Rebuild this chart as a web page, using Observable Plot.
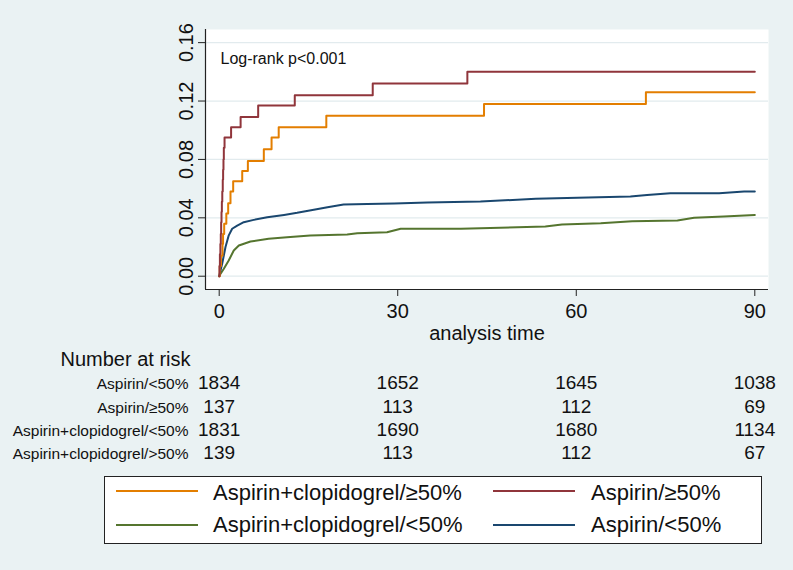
<!DOCTYPE html>
<html><head><meta charset="utf-8">
<script src="https://cdn.jsdelivr.net/npm/d3@7"></script>
<script src="https://cdn.jsdelivr.net/npm/@observablehq/plot@0.6"></script>
<style>
html,body{margin:0;padding:0;background:#eaf2f3;}
body{width:793px;height:570px;overflow:hidden;position:relative;font-family:"Liberation Sans",Arial,sans-serif;}
#legend{position:absolute;left:104px;top:476px;width:656px;height:66px;border:1px solid #222;background:#fff;}
.item{position:absolute;font-size:22px;line-height:22px;color:#111;white-space:nowrap;}
.sw{position:absolute;height:2px;width:82px;}
</style></head><body><div id="chart"></div><div id="legend"></div>
<script>
// ---- data ----
const xTicks = [0, 30, 60, 90];
const yTicks = [0, 0.04, 0.08, 0.12, 0.16];

// Aspirin/≥50% (maroon)
const aspGe50_t = [0, 0.05, 0.12, 0.2, 0.27, 0.33, 0.39, 0.45, 0.52, 0.6, 0.66, 0.72, 0.78, 0.9, 2.0, 3.6, 6.55, 12.7, 25.8, 41.7, 90];
const aspGe50_v = [0, 0.007, 0.015, 0.022, 0.029, 0.037, 0.044, 0.051, 0.058, 0.066, 0.073, 0.080, 0.088, 0.095, 0.102, 0.109, 0.117, 0.124, 0.132, 0.140, 0.140];

// Aspirin+clopidogrel/≥50% (orange)
const clopGe50_t = [0, 0.1, 0.3, 0.56, 0.65, 0.84, 1.2, 1.51, 1.9, 2.35, 3.87, 4.82, 7.5, 8.8, 10.0, 18.0, 44.5, 71.7, 90];
const clopGe50_v = [0, 0.007, 0.014, 0.022, 0.029, 0.036, 0.043, 0.050, 0.058, 0.065, 0.072, 0.079, 0.087, 0.095, 0.102, 0.110, 0.118, 0.126, 0.126];

// Aspirin/<50% (navy)
const aspLt50_t = [0, 0.05, 0.5, 1.06, 1.61, 2.18, 3.03, 4.13, 5.8, 8.07, 10.9, 13.1, 15.9, 18.2, 20.9, 24.9, 29.4, 35, 43.9, 53.2, 60.2, 69.1, 71.9, 75.8, 84, 88.2, 90];
const aspLt50_v = [0, 0.001, 0.0085, 0.020, 0.028, 0.0325, 0.0347, 0.037, 0.0386, 0.0404, 0.042, 0.0434, 0.0455, 0.0473, 0.0491, 0.0494, 0.0498, 0.0505, 0.0512, 0.053, 0.0537, 0.0546, 0.0557, 0.0569, 0.0569, 0.058, 0.058];

// Aspirin+clopidogrel/<50% (green)
const clopLt50_t = [0, 0.05, 0.78, 1.6, 2.45, 3.3, 5.26, 8.3, 11.4, 15.3, 21.5, 23.2, 28.2, 30.5, 40.6, 54.8, 57.6, 64.1, 69.4, 77, 79.8, 84.8, 90];
const clopLt50_v = [0, 0.0005, 0.0051, 0.0108, 0.0176, 0.021, 0.0238, 0.0256, 0.0267, 0.0279, 0.0286, 0.0295, 0.0301, 0.0325, 0.0325, 0.034, 0.0354, 0.0363, 0.0377, 0.0382, 0.04, 0.0409, 0.042];

// number at risk table
const riskTimes = [0, 30, 60, 90];
const riskGroups = ["Aspirin/<50%", "Aspirin/≥50%", "Aspirin+clopidogrel/<50%", "Aspirin+clopidogrel/>50%"];
const riskAspLt50 = [1834, 1652, 1645, 1038];
const riskAspGe50 = [137, 113, 112, 69];
const riskClopLt50 = [1831, 1690, 1680, 1134];
const riskClopGe50 = [139, 113, 112, 67];

// legend
const legendLabels = ["Aspirin+clopidogrel/≥50%", "Aspirin/≥50%", "Aspirin+clopidogrel/<50%", "Aspirin/<50%"];
const legendColors = ["#e37e00", "#90353b", "#55752f", "#1a476f"];

// ---- build ----
const pts = (ts, vs) => ts.map((t, i) => ({t, v: vs[i]}));
const riskRows = [riskAspLt50, riskAspGe50, riskClopLt50, riskClopGe50];
const xDomain = [-2.3, 92.3], yDomain = [-0.0091, 0.169];
const rowDy = [99, 123, 146, 169];
const FONT = "Liberation Sans, Arial, Helvetica, sans-serif";

const chart = Plot.plot({
  width: 793, height: 470,
  marginLeft: 205, marginRight: 25, marginTop: 29, marginBottom: 181,
  x: {domain: xDomain},
  y: {domain: yDomain},
  style: {background: "#eaf2f3", fontFamily: FONT, color: "#111", overflow: "visible"},
  marks: [
    Plot.frame({fill: "white", stroke: null}),
    Plot.ruleY(yTicks, {stroke: "#e2ebee", strokeWidth: 1.3}),
    Plot.line(pts(clopLt50_t, clopLt50_v), {x: "t", y: "v", stroke: legendColors[2], strokeWidth: 2}),
    Plot.line(pts(aspLt50_t, aspLt50_v), {x: "t", y: "v", stroke: legendColors[3], strokeWidth: 2}),
    Plot.line(pts(clopGe50_t, clopGe50_v), {x: "t", y: "v", stroke: legendColors[0], strokeWidth: 2, curve: "step-after"}),
    Plot.line(pts(aspGe50_t, aspGe50_v), {x: "t", y: "v", stroke: legendColors[1], strokeWidth: 2, curve: "step-after"}),
    Plot.ruleX([xDomain[0]], {stroke: "#222", strokeWidth: 1.2}),
    Plot.ruleY([yDomain[0]], {stroke: "#222", strokeWidth: 1.2}),
    Plot.axisY({ticks: yTicks, tickSize: 7, tickFormat: () => "", label: null, stroke: "#222"}),
    Plot.text(yTicks, {frameAnchor: "left", y: d => d, text: d => d3.format(".2f")(d), rotate: -90, dx: -13, lineAnchor: "bottom", textAnchor: "middle", fontSize: 20, fill: "#111"}),
    Plot.axisX({ticks: xTicks, tickSize: 7, tickPadding: 7, tickFormat: d => String(d), label: null, fontSize: 20, stroke: "#222", fill: "#111"}),
    Plot.text(["analysis time"], {frameAnchor: "bottom", dy: 50, lineAnchor: "bottom", fontSize: 20, fill: "#111"}),
    Plot.text(["Log-rank p<0.001"], {frameAnchor: "top-left", dx: 15, dy: 34, lineAnchor: "bottom", textAnchor: "start", fontSize: 16, fill: "#111"}),
    Plot.text(["Number at risk"], {frameAnchor: "bottom-left", dx: -145, dy: 76, lineAnchor: "bottom", textAnchor: "start", fontSize: 20, fill: "#111"}),
    ...riskGroups.map((g, i) => Plot.text([g], {frameAnchor: "bottom-left", dx: -17, dy: rowDy[i], lineAnchor: "bottom", textAnchor: "end", fontSize: 15.5, fill: "#111"})),
    ...riskRows.map((row, i) => Plot.text(riskTimes, {x: d => d, text: (d, j) => String(row[j]), frameAnchor: "bottom", dy: rowDy[i], lineAnchor: "bottom", fontSize: 19, fill: "#111"}))
  ]
});
document.getElementById("chart").appendChild(chart);

// legend (HTML below the svg)
const leg = document.getElementById("legend");
const swLeft = [11, 388], txLeft = [108, 486], swTop = [13, 47], txTop = [5, 37];
legendLabels.forEach((lab, i) => {
  const col = i % 2, row = Math.floor(i / 2);
  const sw = document.createElement("div");
  sw.className = "sw";
  sw.style.left = swLeft[col] + "px"; sw.style.top = swTop[row] + "px";
  sw.style.background = legendColors[i];
  leg.appendChild(sw);
  const tx = document.createElement("div");
  tx.className = "item";
  tx.style.left = txLeft[col] + "px"; tx.style.top = txTop[row] + "px";
  tx.textContent = lab;
  leg.appendChild(tx);
});
</script>
</body></html>
